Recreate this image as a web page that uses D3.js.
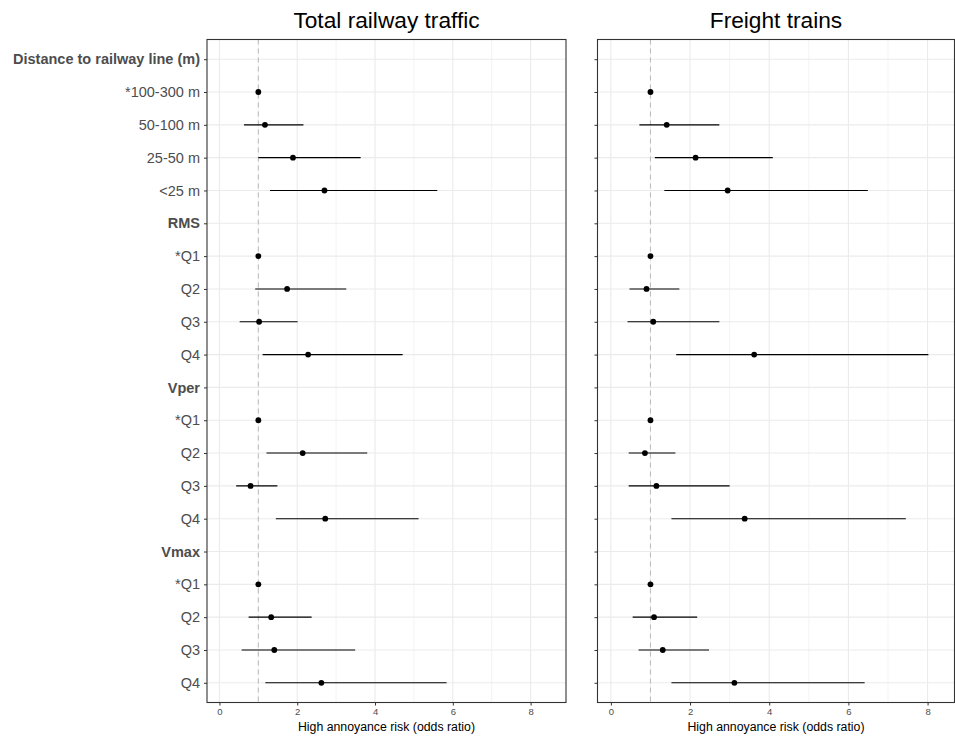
<!DOCTYPE html>
<html>
<head>
<meta charset="utf-8">
<script src="https://cdn.jsdelivr.net/npm/d3@7"></script>
<style>
  html, body { margin: 0; padding: 0; background: #fff; }
  svg { display: block; font-family: "Liberation Sans", Arial, Helvetica, sans-serif; }
</style>
</head>
<body>
<svg id="chart" width="955" height="736"></svg>
<script>
// Row labels (top to bottom); group headers are drawn bold
const categories = [
  "Distance to railway line (m)", "*100-300 m", "50-100 m", "25-50 m", "<25 m",
  "RMS", "*Q1", "Q2", "Q3", "Q4",
  "Vper", "*Q1", "Q2", "Q3", "Q4",
  "Vmax", "*Q1", "Q2", "Q3", "Q4"
];
const headers = ["Distance to railway line (m)", "RMS", "Vper", "Vmax"];

// Total railway traffic: odds ratios and 95% CI (null = no estimate / reference)
const totalOR   = [null, 1.00, 1.17, 1.89, 2.70, null, 1.00, 1.74, 1.02, 2.28, null, 1.00, 2.14, 0.80, 2.72, null, 1.00, 1.33, 1.41, 2.62];
const totalLow  = [null, null, 0.63, 1.00, 1.30, null, null, 0.92, 0.52, 1.11, null, null, 1.21, 0.43, 1.45, null, null, 0.75, 0.57, 1.18];
const totalHigh = [null, null, 2.16, 3.63, 5.60, null, null, 3.26, 2.01, 4.71, null, null, 3.80, 1.49, 5.12, null, null, 2.37, 3.49, 5.84];

// Freight trains
const freightOR   = [null, 1.00, 1.41, 2.14, 2.95, null, 1.00, 0.90, 1.07, 3.62, null, 1.00, 0.86, 1.15, 3.38, null, 1.00, 1.09, 1.31, 3.12];
const freightLow  = [null, null, 0.72, 1.11, 1.35, null, null, 0.47, 0.42, 1.65, null, null, 0.45, 0.45, 1.53, null, null, 0.55, 0.70, 1.53];
const freightHigh = [null, null, 2.74, 4.09, 6.49, null, null, 1.73, 2.74, 8.02, null, null, 1.63, 3.00, 7.45, null, null, 2.18, 2.48, 6.41];

const xTicks = [0, 2, 4, 6, 8];
const gridX = [0, 1, 2, 3, 4, 5, 6, 7, 8];
const refLine = 1;
const xTitle = "High annoyance risk (odds ratio)";

const svg = d3.select("#chart");
const panelTop = 39.5, panelBottom = 702.5;

const y = d3.scalePoint()
  .domain(d3.range(categories.length))
  .range([panelTop, panelBottom])
  .padding(0.6);

function panel(opts) {
  const { x0, x1, domain, title, or, low, high, showLabels } = opts;
  const x = d3.scaleLinear().domain(domain).range([x0, x1]);
  const g = svg.append("g");

  // background grid
  g.append("g").selectAll("line").data(gridX).join("line")
    .attr("x1", d => x(d)).attr("x2", d => x(d))
    .attr("y1", panelTop).attr("y2", panelBottom)
    .attr("stroke", "#ebebeb")
    .attr("stroke-width", d => d % 2 === 0 ? 1.1 : 0.6);
  g.append("g").selectAll("line").data(d3.range(categories.length)).join("line")
    .attr("x1", x0).attr("x2", x1)
    .attr("y1", d => y(d)).attr("y2", d => y(d))
    .attr("stroke", "#ebebeb").attr("stroke-width", 1.1);

  // reference line at OR = 1
  g.append("line")
    .attr("x1", x(refLine)).attr("x2", x(refLine))
    .attr("y1", panelTop).attr("y2", panelBottom)
    .attr("stroke", "#bdbdbd").attr("stroke-width", 1.1)
    .attr("stroke-dasharray", "5,4");

  const rows = d3.range(categories.length).map(i => ({ i, or: or[i], low: low[i], high: high[i] }));

  // confidence intervals
  g.append("g").selectAll("line").data(rows.filter(d => d.low != null && d.high != null)).join("line")
    .attr("x1", d => x(d.low)).attr("x2", d => x(d.high))
    .attr("y1", d => y(d.i)).attr("y2", d => y(d.i))
    .attr("stroke", "#000").attr("stroke-width", 1.1);

  // point estimates
  g.append("g").selectAll("circle").data(rows.filter(d => d.or != null)).join("circle")
    .attr("cx", d => x(d.or)).attr("cy", d => y(d.i))
    .attr("r", 2.9).attr("fill", "#000");

  // panel border
  g.append("rect")
    .attr("x", x0).attr("y", panelTop)
    .attr("width", x1 - x0).attr("height", panelBottom - panelTop)
    .attr("fill", "none").attr("stroke", "#333").attr("stroke-width", 1.1);

  // y axis ticks and labels
  const yAxis = d3.axisLeft(y).tickSize(3).tickPadding(4)
    .tickFormat(i => showLabels ? categories[i] : "");
  const ya = g.append("g").attr("transform", `translate(${x0},0)`).call(yAxis);
  ya.select(".domain").remove();
  ya.selectAll(".tick line").attr("stroke", "#333");
  ya.selectAll(".tick text")
    .attr("fill", "#4d4d4d")
    .style("font-size", "14.5px")
    .style("font-weight", i => headers.includes(categories[i]) ? "bold" : "normal");

  // x axis
  const xAxis = d3.axisBottom(x).tickValues(xTicks).tickSize(3).tickPadding(3)
    .tickFormat(d3.format("d"));
  const xa = g.append("g").attr("transform", `translate(0,${panelBottom})`).call(xAxis);
  xa.select(".domain").remove();
  xa.selectAll(".tick line").attr("stroke", "#333");
  xa.selectAll(".tick text").attr("fill", "#4d4d4d").style("font-size", "9.5px");

  // axis title
  g.append("text")
    .attr("x", (x0 + x1) / 2).attr("y", 731)
    .attr("text-anchor", "middle")
    .style("font-size", "12.3px").attr("fill", "#000")
    .text(xTitle);

  // panel title
  g.append("text")
    .attr("x", (x0 + x1) / 2).attr("y", 28)
    .attr("text-anchor", "middle")
    .style("font-size", "22.7px").attr("fill", "#000")
    .text(title);
}

panel({ x0: 207, x1: 566, domain: [-0.32, 8.91], title: "Total railway traffic",
        or: totalOR, low: totalLow, high: totalHigh, showLabels: true });
panel({ x0: 597.5, x1: 954.5, domain: [-0.338, 8.68], title: "Freight trains",
        or: freightOR, low: freightLow, high: freightHigh, showLabels: false });
</script>
</body>
</html>
